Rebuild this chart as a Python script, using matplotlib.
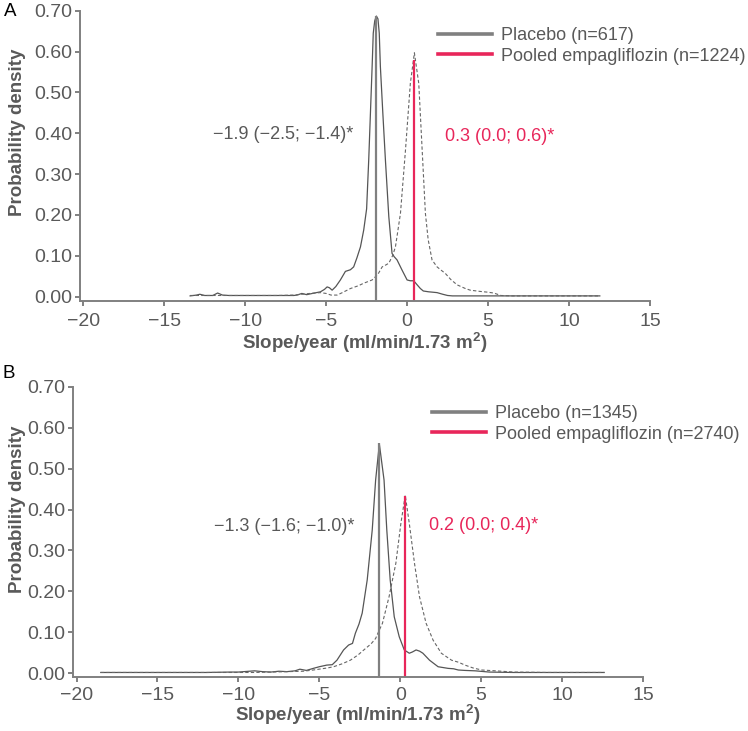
import matplotlib

matplotlib.use("Agg")
import matplotlib.pyplot as plt  # noqa: E402
from matplotlib.ticker import FormatStrFormatter  # noqa: E402

plt.rcParams["font.family"] = ["Liberation Sans", "DejaVu Sans"]

GREY_TXT = "#595959"
GREY_LINE = "#808080"
PINK = "#e8265a"

# --- Panel A: densidade das slopes (placebo = solida, empagliflozin = tracejada)
a_pla_x = [-13.4, -13.0, -12.8, -12.5, -12.0, -11.7, -11.4, -11.0, -10.0, -9.0, -8.0, -7.0,
           -6.8, -6.5, -6.2, -5.97, -5.6, -5.35, -5.1, -4.94, -4.8, -4.63, -4.4, -4.12,
           -3.81, -3.5, -3.3, -3.1, -2.88, -2.68, -2.5, -2.37, -2.16, -2.09, -2.0, -1.9,
           -1.8, -1.72, -1.65, -1.5, -1.34, -1.13, -0.93, -0.8, -0.62, -0.31, 0.0, 0.2,
           0.41, 0.6, 0.82, 1.0, 1.33, 1.6, 1.85, 2.2, 2.5, 2.8, 4.0, 6.0, 8.0, 10.0, 11.9]
a_pla_y = [0.002, 0.004, 0.006, 0.003, 0.003, 0.009, 0.004, 0.003, 0.003, 0.003, 0.003, 0.003,
           0.004, 0.008, 0.005, 0.007, 0.010, 0.012, 0.018, 0.024, 0.022, 0.016, 0.025, 0.041,
           0.062, 0.066, 0.073, 0.095, 0.122, 0.163, 0.215, 0.335, 0.563, 0.645, 0.675, 0.687,
           0.68, 0.645, 0.563, 0.45, 0.335, 0.196, 0.106, 0.098, 0.09, 0.065, 0.041, 0.039,
           0.039, 0.03, 0.02, 0.014, 0.012, 0.011, 0.010, 0.006, 0.003, 0.002, 0.002, 0.002,
           0.002, 0.002, 0.002]

a_emp_x = [-13.4, -12.0, -10.0, -8.0, -7.0, -6.5, -6.0, -5.35, -5.0, -4.7, -4.32, -4.0, -3.5,
           -3.0, -2.68, -2.16, -1.8, -1.54, -1.3, -1.13, -0.9, -0.72, -0.41, -0.1, 0.2, 0.45,
           0.72, 0.93, 1.13, 1.3, 1.54, 1.85, 2.1, 2.36, 2.7, 3.09, 3.6, 3.9, 4.5, 5.0, 5.35,
           5.5, 5.8, 6.5, 8.0, 10.0, 11.9]
a_emp_y = [0.003, 0.003, 0.003, 0.003, 0.004, 0.006, 0.008, 0.010, 0.008, 0.004, 0.004, 0.010,
           0.020, 0.027, 0.033, 0.041, 0.055, 0.073, 0.078, 0.082, 0.100, 0.122, 0.204, 0.359,
           0.522, 0.597, 0.522, 0.359, 0.204, 0.14, 0.09, 0.073, 0.065, 0.057, 0.042, 0.029,
           0.02, 0.016, 0.013, 0.011, 0.009, 0.007, 0.003, 0.002, 0.002, 0.002, 0.002]

# --- Panel B
b_pla_x = [-18.5, -16.0, -14.0, -12.0, -10.5, -10.0, -9.0, -8.5, -8.0, -7.5, -7.0, -6.5, -6.2,
           -5.8, -5.37, -5.0, -4.54, -4.2, -3.91, -3.5, -3.19, -2.95, -2.77, -2.55, -2.35,
           -2.04, -1.73, -1.52, -1.29, -1.0, -0.83, -0.62, -0.37, -0.06, 0.25, 0.56, 0.75,
           0.98, 1.2, 1.4, 1.81, 2.34, 2.96, 3.3, 3.59, 4.0, 4.63, 5.5, 7.0, 9.0, 11.0, 12.6]
b_pla_y = [0.002, 0.002, 0.002, 0.002, 0.003, 0.003, 0.006, 0.004, 0.003, 0.005, 0.004, 0.006,
           0.010, 0.007, 0.012, 0.016, 0.020, 0.021, 0.032, 0.057, 0.069, 0.073, 0.098, 0.12,
           0.147, 0.228, 0.35, 0.472, 0.56, 0.472, 0.35, 0.228, 0.138, 0.089, 0.057, 0.049,
           0.052, 0.057, 0.054, 0.049, 0.032, 0.016, 0.012, 0.011, 0.008, 0.007, 0.006, 0.003,
           0.002, 0.002, 0.002, 0.002]

b_emp_x = [-18.5, -15.0, -12.0, -10.0, -9.0, -8.0, -7.0, -6.0, -5.37, -4.5, -4.12, -3.6, -3.08,
           -2.6, -2.25, -1.8, -1.52, -1.3, -1.1, -0.69, -0.27, 0.04, 0.31, 0.56, 0.88, 1.19,
           1.6, 2.03, 2.54, 3.17, 3.6, 4.0, 4.5, 5.04, 5.88, 7.0, 9.0, 11.0, 12.6]
b_emp_y = [0.002, 0.002, 0.002, 0.002, 0.002, 0.003, 0.004, 0.005, 0.008, 0.013, 0.016, 0.023,
           0.032, 0.045, 0.057, 0.072, 0.085, 0.105, 0.122, 0.187, 0.269, 0.366, 0.435, 0.366,
           0.269, 0.187, 0.122, 0.081, 0.049, 0.032, 0.027, 0.02, 0.013, 0.008, 0.006, 0.003,
           0.002, 0.002, 0.002]

# linhas verticais (moda de cada grupo) e rotulos
a_mode_x = [-1.9, 0.43]
a_mode_y = [0.687, 0.58]
b_mode_x = [-1.33, 0.27]
b_mode_y = [0.562, 0.433]

a_labels = ["Placebo (n=617)", "Pooled empagliflozin (n=1224)"]
b_labels = ["Placebo (n=1345)", "Pooled empagliflozin (n=2740)"]
a_est = ["\u22121.9 (\u22122.5; \u22121.4)*", "0.3 (0.0; 0.6)*"]
b_est = ["\u22121.3 (\u22121.6; \u22121.0)*", "0.2 (0.0; 0.4)*"]

x_ticks = [-20, -15, -10, -5, 0, 5, 10, 15]
y_ticks = [0.0, 0.1, 0.2, 0.3, 0.4, 0.5, 0.6, 0.7]

W, H = 748, 731
fig = plt.figure(figsize=(W / 100, H / 100), dpi=100)


def px_rect(left, top, right, bottom):
    return [left / W, 1 - bottom / H, (right - left) / W, (bottom - top) / H]


def draw_panel(ax, pla, emp, mode_x, mode_y, labels, est, est_pos, leg_anchor, ybot,
               xpad, xlpad):
    ax.plot(pla[0], pla[1], color="#555555", linewidth=0.9)
    ax.plot(emp[0], emp[1], color="#666666", linewidth=0.8, linestyle=(0, (3, 2)))
    cols = [GREY_LINE, PINK]
    handles = []
    for xv, yv, c, lab in zip(mode_x, mode_y, cols, labels):
        ax.vlines(xv, ybot, yv, color=c, linewidth=1.6)
        h, = ax.plot([], [], color=c, linewidth=2.6, label=lab)
        handles.append(h)
    for (tx, ty), s, c in zip(est_pos, est, [GREY_TXT, PINK]):
        ax.text(tx, ty, s, color=c, fontsize=13, ha="left", va="center")

    ax.set_xlim(-20.2, 15)
    ax.set_ylim(ybot, 0.70)
    ax.set_xticks(x_ticks)
    ax.set_yticks(y_ticks)
    ax.yaxis.set_major_formatter(FormatStrFormatter("%.2f"))
    for s in ["top", "right"]:
        ax.spines[s].set_visible(False)
    for s in ["left", "bottom"]:
        ax.spines[s].set_color(GREY_LINE)
        ax.spines[s].set_linewidth(1.4)
    ax.tick_params(colors=GREY_LINE, labelcolor=GREY_TXT, labelsize=14,
                   width=1.4, length=3.5)
    ax.tick_params(axis="x", pad=xpad)
    ax.tick_params(axis="y", pad=2)
    ax.set_xlabel("Slope/year (ml/min/1.73 m$^\\mathregular{2}$)", fontsize=13.5,
                  fontweight="bold", color=GREY_TXT, labelpad=xlpad)
    leg = ax.legend(handles=handles, loc="upper left", bbox_to_anchor=leg_anchor,
                    bbox_transform=fig.transFigure, frameon=False, fontsize=13,
                    handlelength=3.0, handletextpad=0.5, labelspacing=0.2,
                    borderpad=0, borderaxespad=0)
    for t in leg.get_texts():
        t.set_color(GREY_TXT)


ax_a = fig.add_axes(px_rect(80, 10.7, 650, 301))
draw_panel(ax_a, (a_pla_x, a_pla_y), (a_emp_x, a_emp_y), a_mode_x, a_mode_y,
           a_labels, a_est, [(-12.0, 0.396), (2.35, 0.392)],
           (438 / W, 1 - 27 / H), -0.0105, 5, 0)

ax_b = fig.add_axes(px_rect(73.3, 386.7, 643, 677.3))
draw_panel(ax_b, (b_pla_x, b_pla_y), (b_emp_x, b_emp_y), b_mode_x, b_mode_y,
           b_labels, b_est, [(-11.5, 0.358), (1.75, 0.362)],
           (432 / W, 1 - 405 / H), -0.0098, 3.5, -1)

fig.text(18 / W, 1 - 132.5 / H, "Probability density", rotation=90, ha="center",
         va="center", fontsize=13.5, fontweight="bold", color=GREY_TXT)
fig.text(18 / W, 1 - 509 / H, "Probability density", rotation=90, ha="center",
         va="center", fontsize=13.5, fontweight="bold", color=GREY_TXT)
fig.text(4 / W, 1 - 12 / H, "A", fontsize=13.5, ha="left", va="center", color="black")
fig.text(3 / W, 1 - 374 / H, "B", fontsize=13.5, ha="left", va="center", color="black")

fig.savefig("out.png", dpi=100)
plt.close(fig)
